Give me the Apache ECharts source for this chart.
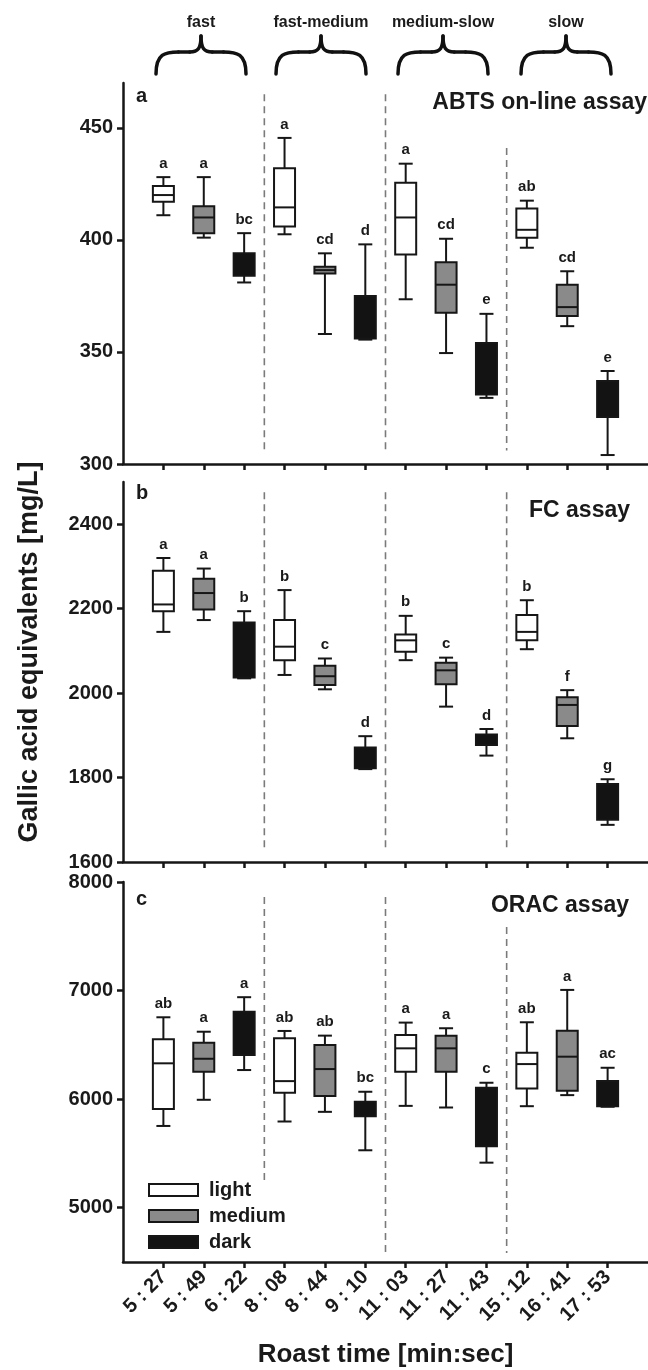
<!DOCTYPE html>
<html>
<head>
<meta charset="utf-8">
<script src="https://cdn.jsdelivr.net/npm/echarts@6/dist/echarts.min.js"></script>
<style>
html,body{margin:0;padding:0;background:#ffffff;}
#chart{width:648px;height:1370px;}
</style>
</head>
<body>
<div id="chart"></div>
<script>
const FONT = "'Liberation Sans', Arial, Helvetica, sans-serif";

// ---------------- data ----------------
const categories = ['5 : 27', '5 : 49', '6 : 22', '8 : 08', '8 : 44', '9 : 10', '11 : 03', '11 : 27', '11 : 43', '15 : 12', '16 : 41', '17 : 53'];
const roastLevel = ['light', 'medium', 'dark', 'light', 'medium', 'dark', 'light', 'medium', 'dark', 'light', 'medium', 'dark'];
const levelNames = ['light', 'medium', 'dark'];
const roastSpeeds = ['fast', 'fast-medium', 'medium-slow', 'slow'];
const panelTitles = ['ABTS on-line assay', 'FC assay', 'ORAC assay'];
const panelLetters = ['a', 'b', 'c'];

// box statistics per category: [min, Q1, median, Q3, max]
const abtsBoxes = [
  [411, 417, 420, 424, 428],
  [401, 403, 410, 415, 428],
  [381, 384, 389, 394, 403],
  [402.5, 406, 414.5, 432, 445.5],
  [358, 385, 386.5, 388, 394],
  [355.5, 356, 365, 375, 398],
  [373.5, 393.5, 410, 425.5, 434],
  [349.5, 367.5, 380, 390, 400.5],
  [329.5, 331, 342, 354, 367],
  [396.5, 401, 404.5, 414, 417.5],
  [361.5, 366, 370, 380, 386],
  [304, 321, 329, 337, 341.5]
];
const abtsLetters = ['a', 'a', 'bc', 'a', 'cd', 'd', 'a', 'cd', 'e', 'ab', 'cd', 'e'];

const fcBoxes = [
  [2145, 2194, 2210, 2290, 2320],
  [2173, 2198, 2237, 2271, 2295],
  [2035, 2037, 2100, 2167, 2194],
  [2043, 2078, 2110, 2173, 2244],
  [2009, 2019, 2040, 2065, 2082],
  [1820, 1822, 1845, 1871, 1898],
  [2078, 2098, 2125, 2139, 2183],
  [1968, 2021, 2054, 2072, 2084],
  [1852, 1877, 1890, 1902, 1915],
  [2104, 2125, 2145, 2185, 2220],
  [1893, 1922, 1972, 1990, 2007],
  [1688, 1700, 1740, 1785, 1796]
];
const fcLetters = ['a', 'a', 'b', 'b', 'c', 'd', 'b', 'c', 'd', 'b', 'f', 'g'];

const oracBoxes = [
  [5753, 5910, 6330, 6551, 6754],
  [5994, 6252, 6372, 6520, 6621],
  [6268, 6406, 6600, 6806, 6939],
  [5794, 6058, 6166, 6560, 6628],
  [5883, 6030, 6277, 6499, 6585],
  [5529, 5843, 5910, 5975, 6068],
  [5938, 6252, 6468, 6591, 6705],
  [5923, 6252, 6468, 6585, 6653],
  [5415, 5566, 5800, 6105, 6151],
  [5935, 6099, 6323, 6428, 6708],
  [6037, 6077, 6391, 6631, 7006],
  [5930, 5935, 6050, 6166, 6289]
];
const oracLetters = ['ab', 'a', 'a', 'ab', 'ab', 'bc', 'a', 'a', 'c', 'ab', 'a', 'ac'];

// y-axis ticks
const abtsTicks = [300, 350, 400, 450];
const fcTicks = [1600, 1800, 2000, 2200, 2400];
const oracTicks = [5000, 6000, 7000, 8000];

// group separators (x position between categories) and their vertical extents [top, bottom] in data units
const groupBoundaries = [2.5, 5.5, 8.5];
const abtsSepExtent = [[465, 306], [465, 306], [441, 306]];
const fcSepExtent = [[2476, 1628], [2476, 1628], [2476, 1628]];
const oracSepExtent = [[7862, 5237], [7862, 4583], [7586, 4583]];

// ---------------- layout / style ----------------
const levelFill = { light: '#ffffff', medium: '#8a8a8a', dark: '#131313' };
const INK = '#161616';
const TEXT = '#1a1a1a';

const panels = [
  { boxes: abtsBoxes, letters: abtsLetters, ticks: abtsTicks, min: 300, max: 470, sep: abtsSepExtent, top: 83, height: 381 },
  { boxes: fcBoxes, letters: fcLetters, ticks: fcTicks, min: 1600, max: 2500, sep: fcSepExtent, top: 482, height: 380 },
  { boxes: oracBoxes, letters: oracLetters, ticks: oracTicks, min: 4500, max: 8000, sep: oracSepExtent, top: 882, height: 380 }
];
const catIdx = categories.map((c, i) => i);

function makeRender(letters, fill, showMedian) {
  return function (params, api) {
    const i = api.value(0);
    const c = v => api.coord([i, v]);
    const pMin = c(api.value(1)), pQ1 = c(api.value(2)), pMed = c(api.value(3)), pQ3 = c(api.value(4)), pMax = c(api.value(5));
    const x = pMin[0];
    const bw = 21, cw = 14, lw = 2;
    const ls = { stroke: INK, lineWidth: lw };
    const children = [
      { type: 'line', shape: { x1: x, y1: pMax[1], x2: x, y2: pQ3[1] }, style: ls },
      { type: 'line', shape: { x1: x, y1: pQ1[1], x2: x, y2: pMin[1] }, style: ls },
      { type: 'line', shape: { x1: x - cw / 2, y1: pMax[1], x2: x + cw / 2, y2: pMax[1] }, style: ls },
      { type: 'line', shape: { x1: x - cw / 2, y1: pMin[1], x2: x + cw / 2, y2: pMin[1] }, style: ls },
      { type: 'rect', shape: { x: x - bw / 2, y: pQ3[1], width: bw, height: pQ1[1] - pQ3[1] }, style: { fill: fill, stroke: INK, lineWidth: lw } }
    ];
    if (showMedian) {
      children.push({ type: 'line', shape: { x1: x - bw / 2, y1: pMed[1], x2: x + bw / 2, y2: pMed[1] }, style: ls });
    }
    children.push({ type: 'text', style: { text: letters[i], x: x, y: pMax[1] - 6, textAlign: 'center', textVerticalAlign: 'bottom', align: 'center', verticalAlign: 'bottom', font: 'bold 15px ' + FONT, fill: TEXT } });
    return { type: 'group', children: children };
  };
}

const grids = [], xAxes = [], yAxes = [], series = [];
panels.forEach((p, k) => {
  grids.push({ left: 123, width: 527, top: p.top, height: p.height });
  xAxes.push({
    gridIndex: k, type: 'value', min: -1, max: 12,
    axisLine: { onZero: false, lineStyle: { color: INK, width: 2.5 } },
    axisTick: { show: true, length: 6, customValues: catIdx, lineStyle: { color: INK, width: 2.5 } },
    axisLabel: {
      show: k === 2, customValues: catIdx, formatter: v => categories[v] || '',
      rotate: 45, margin: 12, color: TEXT, fontSize: 20, fontWeight: 'bold', fontFamily: FONT
    },
    splitLine: { show: false },
    name: k === 2 ? 'Roast time [min:sec]' : '',
    nameLocation: 'middle', nameGap: 80,
    nameTextStyle: { fontSize: 26, fontWeight: 'bold', fontFamily: FONT, color: TEXT }
  });
  yAxes.push({
    gridIndex: k, type: 'value', min: p.min, max: p.max,
    axisLine: { show: true, onZero: false, lineStyle: { color: INK, width: 2.5 } },
    axisTick: { show: true, length: 6, customValues: p.ticks, lineStyle: { color: INK, width: 2.5 } },
    axisLabel: { customValues: p.ticks, formatter: v => String(v), margin: 10, color: TEXT, fontSize: 20, fontWeight: 'bold', fontFamily: FONT },
    splitLine: { show: false }
  });
  // dashed group separators
  groupBoundaries.forEach((gx, j) => {
    series.push({
      type: 'line', xAxisIndex: k, yAxisIndex: k, silent: true, symbol: 'none', z: 1,
      data: [[gx, p.sep[j][0]], [gx, p.sep[j][1]]],
      lineStyle: { type: [7, 5], color: '#7a7a7a', width: 1.6 }
    });
  });
  levelNames.forEach(lv => {
    const data = [];
    p.boxes.forEach((b, i) => { if (roastLevel[i] === lv) data.push([i].concat(b)); });
    series.push({
      type: 'custom', name: lv, xAxisIndex: k, yAxisIndex: k, z: 3,
      itemStyle: { color: levelFill[lv], borderColor: INK },
      encode: { x: 0, y: [1, 2, 3, 4, 5] },
      renderItem: makeRender(p.letters, levelFill[lv], lv !== 'dark'),
      data: data
    });
  });
});

// titles: panel letters, assay names, roast speed groups
const titles = [];
const letterTops = [86, 483, 889];
const assayTops = [91, 499, 894];
const assayRights = [1, 18, 19];
panels.forEach((p, k) => {
  titles.push({ text: panelLetters[k], left: 136, top: letterTops[k], padding: 0,
    textStyle: { fontSize: 20, fontWeight: 'bold', fontFamily: FONT, color: TEXT } });
  titles.push({ text: panelTitles[k], right: assayRights[k], top: assayTops[k], padding: 0,
    textStyle: { fontSize: 23, fontWeight: 'bold', fontFamily: FONT, color: TEXT } });
});
const groupCenters = [201, 321, 443, 566];
roastSpeeds.forEach((g, j) => {
  titles.push({ text: g, left: groupCenters[j], top: 15, padding: 0, textAlign: 'center',
    textStyle: { fontSize: 16, fontWeight: 'bold', fontFamily: FONT, color: TEXT } });
});

// horizontal curly braces (opening downward) built from bezier curves and lines
function braceGroup(xc, w, yt, yb) {
  const ym = yt + (yb - yt) * 0.42;
  const st = { fill: 'none', stroke: '#111', lineWidth: 3.5, lineCap: 'round' };
  const parts = [];
  [-1, 1].forEach(s => {
    parts.push({ type: 'bezierCurve', silent: true, style: st,
      shape: { x1: xc + s * w, y1: yb, cpx1: xc + s * w, cpy1: ym + 2, cpx2: xc + s * w * 0.8, cpy2: ym, x2: xc + s * w * 0.5, y2: ym } });
    parts.push({ type: 'line', silent: true, style: st,
      shape: { x1: xc + s * w * 0.5, y1: ym, x2: xc + s * w * 0.25, y2: ym } });
    parts.push({ type: 'bezierCurve', silent: true, style: st,
      shape: { x1: xc + s * w * 0.25, y1: ym, cpx1: xc + s * w * 0.06, cpy1: ym, cpx2: xc, cpy2: ym - 4, x2: xc, y2: yt } });
  });
  return { type: 'group', silent: true, children: parts };
}

const graphics = groupCenters.map(c => braceGroup(c, 45, 36, 74));
graphics.push({
  type: 'text', x: 30, y: 652, rotation: Math.PI / 2, silent: true,
  style: { text: 'Gallic acid equivalents [mg/L]', font: 'bold 27px ' + FONT, fill: TEXT,
    textAlign: 'center', textVerticalAlign: 'middle', align: 'center', verticalAlign: 'middle' }
});

const option = {
  backgroundColor: '#ffffff',
  animation: false,
  title: titles,
  grid: grids,
  xAxis: xAxes,
  yAxis: yAxes,
  legend: {
    orient: 'vertical', left: 143, top: 1175, itemWidth: 49, itemHeight: 12, itemGap: 6,
    icon: 'rect', selectedMode: false,
    textStyle: { fontSize: 20, lineHeight: 20, fontWeight: 'bold', fontFamily: FONT, color: TEXT, padding: [0, 0, 0, 6] },
    data: levelNames.map(n => ({ name: n, itemStyle: { color: levelFill[n], borderColor: INK, borderWidth: 2 } }))
  },
  graphic: graphics,
  series: series
};

const chart = echarts.init(document.getElementById('chart'), null, { renderer: 'canvas' });
chart.setOption(option);
</script>
</body>
</html>
